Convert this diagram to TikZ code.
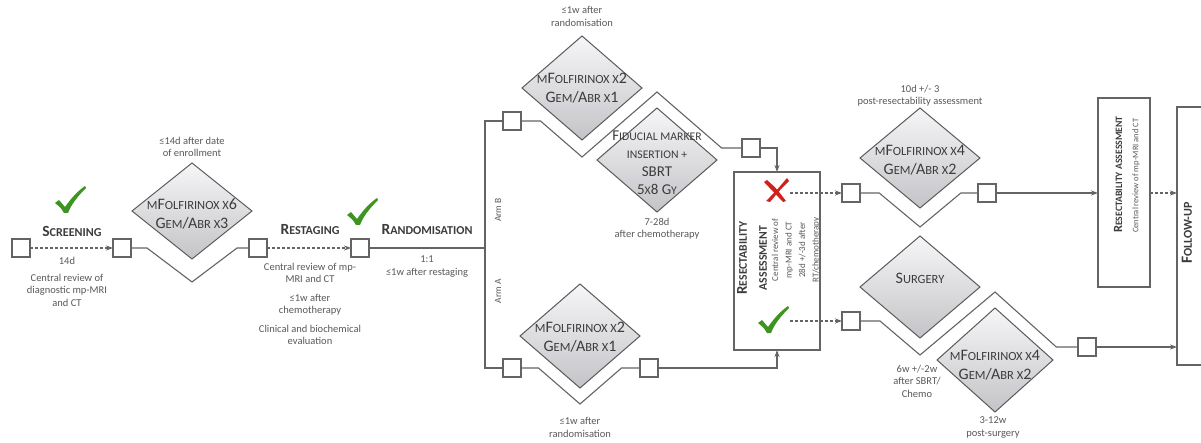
\documentclass[tikz,border=0pt]{standalone}
\usepackage{fontspec}
\setmainfont{Carlito}
\usepackage{graphicx}
\usetikzlibrary{arrows.meta,shapes.geometric}
\definecolor{ln}{RGB}{100,100,100}
\definecolor{tx}{RGB}{89,89,89}
\definecolor{dtx}{RGB}{60,60,60}
\definecolor{tickg}{RGB}{62,148,32}
\definecolor{crossr}{RGB}{205,35,30}
\definecolor{dtop}{RGB}{246,246,248}
\definecolor{dmid}{RGB}{226,226,230}
\definecolor{dbot}{RGB}{196,196,200}
\newcommand\sm[1]{\scalebox{0.78}{#1}}
\tikzset{
 pics/tickmark/.style={code={
   \fill[tickg] (-11,-9) -- (-7,-12) .. controls (-4,-9) .. (-1,-5) .. controls (6,-15) and (12,-21) .. (19,-26) -- (20,-24) .. controls (11,-15) and (5,-7) .. (2,1) -- (-2,1) .. controls (-5,-4) .. cycle;
 }},
 pics/crossmark/.style={code={
   \fill[crossr] (11,-12) -- (13,-9) .. controls (4,0) .. (-6,12) -- (-10,11) .. controls (0,1) .. cycle;
   \fill[crossr] (-12,-8) -- (-9,-10) .. controls (0,-2) .. (10,11) -- (7,12) .. controls (-2,2) .. cycle;
 }},
}
\begin{document}
\begin{tikzpicture}[x=1pt,y=-1pt,
  conn/.style={draw=ln, line width=1.1pt},
  arr/.style={conn, -{Stealth[length=7pt,width=5pt]}},
  darr/.style={arr, dash pattern=on 3pt off 2pt},
  sq/.style={draw=ln, fill=white, line width=1.1pt, minimum size=18pt, inner sep=0pt, outer sep=0pt},
  box/.style={draw=ln, fill=white, line width=1.4pt, inner sep=0pt, outer sep=0pt},
  dia/.style={shape=diamond, draw=ln!90!black, line width=1pt, top color=dtop, middle color=dmid, bottom color=dbot, inner sep=0pt, outer sep=0pt, minimum width=120pt},
  lab/.style={font=\fontsize{10.5}{12.5}\selectfont, text=tx, align=center, inner sep=0pt},
  slab/.style={font=\fontsize{9}{13.5}\selectfont, text=tx, align=center, inner sep=0pt},
  ttl/.style={font=\fontsize{15.5}{18}\selectfont\bfseries, text=dtx, align=center, inner sep=0pt},
  dt/.style={font=\fontsize{16}{19}\selectfont, text=dtx, align=center, inner sep=0pt},
]
\useasboundingbox (0,0) rectangle (1201,443);
\clip (0,0) rectangle (1201,443);
\fill[white] (0,0) rectangle (1201,443);

% boxes
\node[box, minimum width=86pt, minimum height=178pt] (rb1) at (777,261) {};
\node[box, minimum width=52pt, minimum height=189pt] (rb2) at (1124,192.5) {};
\node[box, minimum width=63pt, minimum height=258pt] (fu) at (1208.5,236) {};

% diamonds
\node[dia, minimum height=96pt] (d1) at (192,211) {};
\node[dia, minimum height=104pt] (dB1) at (582,88) {};
\node[dia, minimum height=104pt] (dF) at (657,160) {};
\node[dia, minimum height=104pt] (dA) at (580,336) {};
\node[dia, minimum height=100pt] (dX) at (920,158) {};
\node[dia, minimum height=102pt] (dS) at (920,287) {};
\node[dia, minimum width=116pt, minimum height=104pt] (dL) at (995,360) {};

% squares
\node[sq] (s1) at (21,248) {};
\node[sq] (s2) at (122,248) {};
\node[sq] (s3) at (258,248) {};
\node[sq] (s4) at (360,248) {};
\node[sq] (sB1) at (512,121) {};
\node[sq] (sB2) at (751,148) {};
\node[sq] (sA1) at (512,368) {};
\node[sq] (sA2) at (649,368) {};
\node[sq] (sX1) at (851,193) {};
\node[sq] (sX2) at (987,193) {};
\node[sq] (sC1) at (851,321) {};
\node[sq] (sC2) at (1087,347) {};

% bend points of the outline paths
\coordinate (k1a) at (147,248);
\coordinate (v1) at (192,282);
\coordinate (k1b) at (237,248);
\coordinate (split) at (485,248);
\coordinate (kB1) at (540.5,121);
\coordinate (vB1) at (582,157);
\coordinate (tF) at (657,92);
\coordinate (kF) at (721.6,148);
\coordinate (kA1) at (538.5,368);
\coordinate (vA) at (580,404);
\coordinate (kA2) at (621.5,368);
\coordinate (kX1) at (879.2,193);
\coordinate (vX) at (920,227);
\coordinate (kX2) at (960.8,193);
\coordinate (kC1) at (880,321);
\coordinate (vS) at (920,355);
\coordinate (tL) at (995,292);
\coordinate (kL) at (1056.3,347);
\coordinate (xs) at (790,193);
\coordinate (cs) at (790,321);

% connectors
\draw[darr] (s1) -- (s2);
\draw[conn] (s2) -- (k1a) -- (v1) -- (k1b) -- (s3);
\draw[darr] (s3) -- (s4);
\draw[conn] (s4) -- (split);
\draw[conn] (sB1) -| (split) |- (sA1);
\draw[conn] (sB1) -- (kB1) -- (vB1) -- (tF) -- (kF) -- (sB2);
\draw[arr] (sB2) -| (rb1);
\draw[conn] (sA1) -- (kA1) -- (vA) -- (kA2) -- (sA2);
\draw[arr] (sA2) -| (rb1);
\draw[darr] (xs) -- (sX1);
\draw[darr] (cs) -- (sC1);
\draw[conn] (sX1) -- (kX1) -- (vX) -- (kX2) -- (sX2);
\draw[arr] (sX2) -- (sX2 -| rb2.west);
\draw[darr] (rb2.east |- sX2) -- (sX2 -| fu.west);
\draw[conn] (sC1) -- (kC1) -- (vS) -- (tL) -- (kL) -- (sC2);
\draw[arr] (sC2) -- (sC2 -| fu.west);

% marks
\pic at (66,212) {tickmark};
\pic at (358,224) {tickmark};
\pic at (769,332) {tickmark};
\pic at (776,190) {crossmark};

% diamond texts
\node[dt] (d1t) at (192,214) {\sm{M}F\sm{OLFIRINOX X}6\\G\sm{EM}/A\sm{BR X}3};
\node[dt] (dB1t) at (582,88) {\sm{M}F\sm{OLFIRINOX X}2\\G\sm{EM}/A\sm{BR X}1};
\node[dt, font=\fontsize{15}{18}\selectfont] (dFt) at (657,163) {F\sm{IDUCIAL MARKER}\\\sm{INSERTION +}\\SBRT\\5\sm{X}8 G\sm{Y}};
\node[dt] (dAt) at (580,337) {\sm{M}F\sm{OLFIRINOX X}2\\G\sm{EM}/A\sm{BR X}1};
\node[dt] (dXt) at (920,160) {\sm{M}F\sm{OLFIRINOX X}4\\G\sm{EM}/A\sm{BR X}2};
\node[dt] (dSt) at (920,278) {S\sm{URGERY}};
\node[dt] (dLt) at (995,365) {\sm{M}F\sm{OLFIRINOX X}4\\G\sm{EM}/A\sm{BR X}2};

% stage titles
\node[ttl] (scr) at (72,231) {S\sm{CREENING}};
\node[ttl] (rst) at (310,230) {R\sm{ESTAGING}};
\node[ttl] (rnd) at (427,230) {R\sm{ANDOMISATION}};

% labels
\node[lab] (l14) at (67,261) {14d};
\node[lab] (lscr) at (67,290) {Central review of\\diagnostic mp-MRI\\and CT};
\node[lab] (lenr) at (192,147) {≤14d after date\\of enrollment};
\node[lab] (lrst) at (310,304) {Central review of mp-\\MRI and CT\\[6pt]≤1w after\\chemotherapy\\[6pt]Clinical and biochemical\\evaluation};
\node[lab] (lrnd) at (427,266.5) {1:1\\≤1w after restaging};
\node[slab, font=\fontsize{9.5}{12}\selectfont, rotate=90] (armB) at (498,210) {Arm B};
\node[slab, font=\fontsize{9.5}{12}\selectfont, rotate=90] (armA) at (498,291) {Arm A};
\node[lab] (lB1) at (582,16.5) {≤1w after\\randomisation};
\node[lab] (lA) at (580,427.5) {≤1w after\\randomisation};
\node[lab] (lF) at (657,228.5) {7-28d\\after chemotherapy};
\node[lab] (lX) at (920,95.5) {10d +/- 3\\post-resectability assessment};
\node[lab] (lS) at (917,381) {6w +/-2w\\after SBRT/\\Chemo};
\node[lab] (lL) at (993,427.5) {3-12w\\post-surgery};

% box texts
\node[ttl, font=\fontsize{15}{20}\selectfont\bfseries, rotate=90] (rb1t) at (752,258) {R\sm{ESECTABILITY}\\\sm{ASSESSMENT}};
\node[slab, rotate=90] (rb1s) at (796,250) {Central review of\\mp-MRI and CT\\28d +/-3d after\\RT/chemotherapy};
\node[ttl, font=\fontsize{12.5}{15}\selectfont\bfseries, rotate=90, anchor=west] (rb2t) at (1118,233) {R\sm{ESECTABILITY ASSESSMENT}};
\node[slab, font=\fontsize{8.5}{10}\selectfont, rotate=90, anchor=west] (rb2s) at (1136,233) {Central review of mp-MRI and CT};
\node[ttl, rotate=90] (fut) at (1187,233) {F\sm{OLLOW-UP}};
\end{tikzpicture}
\end{document}
